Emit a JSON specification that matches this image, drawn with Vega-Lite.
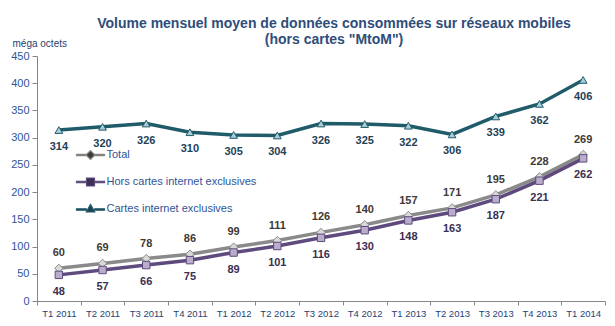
{
  "$schema": "https://vega.github.io/schema/vega-lite/v6.json",
  "width": 568,
  "height": 245,
  "autosize": "none",
  "padding": {"left": 37, "top": 56, "right": 10, "bottom": 25},
  "background": "white",
  "config": {
    "view": {"stroke": null},
    "font": "Liberation Sans",
    "axis": {"labelFont": "Liberation Sans", "titleFont": "Liberation Sans"},
    "legend": {"labelFont": "Liberation Sans"}
  },
  "title": {
    "text": ["Volume mensuel moyen de données consommées sur réseaux mobiles", "(hors cartes \"MtoM\")"],
    "fontSize": 14,
    "fontWeight": "bold",
    "color": "#2E4D7B",
    "anchor": "middle",
    "dx": 13,
    "dy": 21,
    "offset": 12,
    "lineHeight": 16
  },
  "data": {
    "values": [
      {"q": "T1 2011", "s": "Total", "v": 60},
      {"q": "T2 2011", "s": "Total", "v": 69},
      {"q": "T3 2011", "s": "Total", "v": 78},
      {"q": "T4 2011", "s": "Total", "v": 86},
      {"q": "T1 2012", "s": "Total", "v": 99},
      {"q": "T2 2012", "s": "Total", "v": 111},
      {"q": "T3 2012", "s": "Total", "v": 126},
      {"q": "T4 2012", "s": "Total", "v": 140},
      {"q": "T1 2013", "s": "Total", "v": 157},
      {"q": "T2 2013", "s": "Total", "v": 171},
      {"q": "T3 2013", "s": "Total", "v": 195},
      {"q": "T4 2013", "s": "Total", "v": 228},
      {"q": "T1 2014", "s": "Total", "v": 269},
      {"q": "T1 2011", "s": "Hors cartes internet exclusives", "v": 48},
      {"q": "T2 2011", "s": "Hors cartes internet exclusives", "v": 57},
      {"q": "T3 2011", "s": "Hors cartes internet exclusives", "v": 66},
      {"q": "T4 2011", "s": "Hors cartes internet exclusives", "v": 75},
      {"q": "T1 2012", "s": "Hors cartes internet exclusives", "v": 89},
      {"q": "T2 2012", "s": "Hors cartes internet exclusives", "v": 101},
      {"q": "T3 2012", "s": "Hors cartes internet exclusives", "v": 116},
      {"q": "T4 2012", "s": "Hors cartes internet exclusives", "v": 130},
      {"q": "T1 2013", "s": "Hors cartes internet exclusives", "v": 148},
      {"q": "T2 2013", "s": "Hors cartes internet exclusives", "v": 163},
      {"q": "T3 2013", "s": "Hors cartes internet exclusives", "v": 187},
      {"q": "T4 2013", "s": "Hors cartes internet exclusives", "v": 221},
      {"q": "T1 2014", "s": "Hors cartes internet exclusives", "v": 262},
      {"q": "T1 2011", "s": "Cartes internet exclusives", "v": 314},
      {"q": "T2 2011", "s": "Cartes internet exclusives", "v": 320},
      {"q": "T3 2011", "s": "Cartes internet exclusives", "v": 326},
      {"q": "T4 2011", "s": "Cartes internet exclusives", "v": 310},
      {"q": "T1 2012", "s": "Cartes internet exclusives", "v": 305},
      {"q": "T2 2012", "s": "Cartes internet exclusives", "v": 304},
      {"q": "T3 2012", "s": "Cartes internet exclusives", "v": 326},
      {"q": "T4 2012", "s": "Cartes internet exclusives", "v": 325},
      {"q": "T1 2013", "s": "Cartes internet exclusives", "v": 322},
      {"q": "T2 2013", "s": "Cartes internet exclusives", "v": 306},
      {"q": "T3 2013", "s": "Cartes internet exclusives", "v": 339},
      {"q": "T4 2013", "s": "Cartes internet exclusives", "v": 362},
      {"q": "T1 2014", "s": "Cartes internet exclusives", "v": 406}
    ]
  },
  "encoding": {
    "x": {
      "field": "q",
      "type": "ordinal",
      "sort": null,
      "scale": {"type": "band", "paddingInner": 0, "paddingOuter": 0},
      "axis": {
        "title": null,
        "labelAngle": 0,
        "labelFontSize": 9.5,
        "labelColor": "#1F3F73",
        "tickBand": "extent",
        "tickSize": 4,
        "labelPadding": 3,
        "domainColor": "#868686",
        "tickColor": "#868686"
      }
    },
    "y": {
      "field": "v",
      "type": "quantitative",
      "scale": {"domain": [0, 450], "nice": false},
      "axis": {
        "values": [0, 50, 100, 150, 200, 250, 300, 350, 400, 450],
        "grid": false,
        "title": "méga octets",
        "titleAngle": 0,
        "titleAlign": "left",
        "titleBaseline": "middle",
        "titleX": -25,
        "titleY": -13,
        "titleFontSize": 10,
        "titleFontWeight": "normal",
        "titleColor": "#1F3F73",
        "labelFontSize": 11,
        "labelColor": "#2F5496",
        "tickSize": 5,
        "labelPadding": 3,
        "domainColor": "#868686",
        "tickColor": "#868686"
      }
    }
  },
  "layer": [
    {
      "mark": {"type": "line", "strokeWidth": 3.5},
      "encoding": {
        "stroke": {
          "field": "s",
          "type": "nominal",
          "scale": {
            "domain": ["Total", "Hors cartes internet exclusives", "Cartes internet exclusives"],
            "range": ["#8A8A8A", "#5F4A7E", "#205B6A"]
          },
          "legend": {
            "title": null,
            "orient": "none",
            "legendX": 47.5,
            "legendY": 93,
            "padding": 0,
            "symbolSize": 100,
            "symbolStrokeWidth": 1.2,
            "symbolType": {"expr": "datum.value === 'Total' ? 'M-2.8,-0.15L-0.9,-0.15L-0.9,0.15L-2.8,0.15ZM0.9,-0.15L2.8,-0.15L2.8,0.15L0.9,0.15ZM-0.9,0L0,-0.9L0.9,0L0,0.9Z' : (datum.value === 'Cartes internet exclusives' ? 'M-2.8,-0.05L-0.85,-0.05L-0.85,0.25L-2.8,0.25ZM0.85,-0.05L2.8,-0.05L2.8,0.25L0.85,0.25ZM-0.85,0.6L0,-0.9L0.85,0.6Z' : 'M-2.8,-0.15L-0.8,-0.15L-0.8,0.15L-2.8,0.15ZM0.8,-0.15L2.8,-0.15L2.8,0.15L0.8,0.15ZM-0.8,-0.8L0.8,-0.8L0.8,0.8L-0.8,0.8Z')"},
            "symbolFillColor": {"expr": "datum.value === 'Total' ? '#D9D9D9' : (datum.value === 'Cartes internet exclusives' ? '#A9CCDA' : '#B9ADCB')"},
            "rowPadding": 13,
            "labelOffset": 10,
            "labelFontSize": 11,
            "labelColor": "#2F5496",
            "labelLimit": 300
          }
        }
      }
    },
    {
      "transform": [{"filter": "datum.s === 'Total'"}],
      "mark": {"type": "point", "shape": "diamond", "filled": true, "fill": "#D9D9D9", "stroke": "#8A8A8A", "strokeWidth": 1, "opacity": 1, "size": 70}
    },
    {
      "transform": [{"filter": "datum.s === 'Hors cartes internet exclusives'"}],
      "mark": {"type": "point", "shape": "square", "filled": true, "fill": "#B9ADCB", "stroke": "#5F4A7E", "strokeWidth": 1, "opacity": 1, "size": 55}
    },
    {
      "transform": [{"filter": "datum.s === 'Cartes internet exclusives'"}],
      "mark": {"type": "point", "shape": "triangle-up", "filled": true, "fill": "#A9CCDA", "stroke": "#205B6A", "strokeWidth": 1, "opacity": 1, "size": 60}
    },
    {
      "transform": [{"filter": "datum.s === 'Total'"}],
      "mark": {"type": "text", "dy": -15, "fontSize": 11, "fontWeight": "bold"},
      "encoding": {
        "text": {"field": "v", "type": "quantitative"},
        "color": {
          "field": "s",
          "type": "nominal",
          "scale": {
            "domain": ["Total", "Hors cartes internet exclusives", "Cartes internet exclusives"],
            "range": ["#403A36", "#3B2F52", "#1F4257"]
          },
          "legend": null
        }
      }
    },
    {
      "transform": [{"filter": "datum.s !== 'Total'"}],
      "mark": {"type": "text", "dy": 17, "fontSize": 11, "fontWeight": "bold"},
      "encoding": {
        "text": {"field": "v", "type": "quantitative"},
        "color": {"field": "s", "type": "nominal", "legend": null}
      }
    }
  ]
}
